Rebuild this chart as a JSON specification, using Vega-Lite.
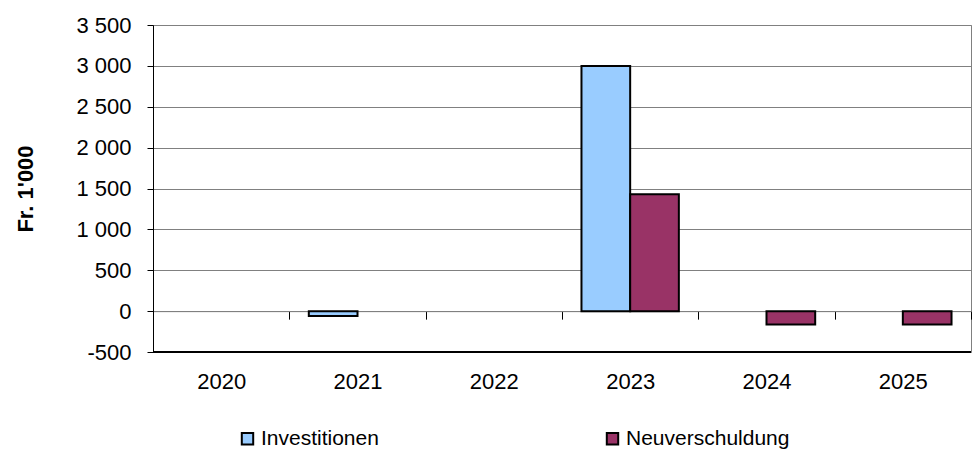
{
  "$schema": "https://vega.github.io/schema/vega-lite/v6.json",
  "autosize": {"type": "none"},
  "padding": {"left": 153, "top": 25, "right": 2, "bottom": 102},
  "width": 818,
  "height": 327,
  "background": "white",
  "config": {
    "font": "Liberation Sans",
    "view": {"stroke": "#808080", "strokeWidth": 1}
  },
  "data": {
    "values": [
      {"Jahr": "2020", "Serie": "Investitionen", "Wert": 0},
      {"Jahr": "2020", "Serie": "Neuverschuldung", "Wert": 0},
      {"Jahr": "2021", "Serie": "Investitionen", "Wert": -60},
      {"Jahr": "2021", "Serie": "Neuverschuldung", "Wert": 0},
      {"Jahr": "2022", "Serie": "Investitionen", "Wert": 0},
      {"Jahr": "2022", "Serie": "Neuverschuldung", "Wert": 0},
      {"Jahr": "2023", "Serie": "Investitionen", "Wert": 3000},
      {"Jahr": "2023", "Serie": "Neuverschuldung", "Wert": 1430},
      {"Jahr": "2024", "Serie": "Investitionen", "Wert": 0},
      {"Jahr": "2024", "Serie": "Neuverschuldung", "Wert": -165},
      {"Jahr": "2025", "Serie": "Investitionen", "Wert": 0},
      {"Jahr": "2025", "Serie": "Neuverschuldung", "Wert": -165}
    ]
  },
  "layer": [
    {
      "transform": [{"filter": "datum.Wert != 0"}],
      "mark": {"type": "bar", "stroke": "black", "strokeWidth": 2},
      "encoding": {
        "x": {
          "field": "Jahr",
          "type": "nominal",
          "scale": {"domain": ["2020", "2021", "2022", "2023", "2024", "2025"], "paddingInner": 0, "paddingOuter": 0},
          "axis": {
            "title": null,
            "offset": -40.875,
            "tickBand": "extent",
            "domainColor": "#808080",
            "domainWidth": 1,
            "tickColor": "#000000",
            "tickSize": 8,
            "labelFontSize": 22,
            "labelColor": "#000000",
            "labelPadding": 52,
            "labelAngle": 0,
            "grid": false
          }
        },
        "xOffset": {
          "field": "Serie",
          "type": "nominal",
          "scale": {"domain": ["Investitionen", "Neuverschuldung"], "paddingInner": 0, "paddingOuter": 0.4}
        },
        "y": {
          "field": "Wert",
          "type": "quantitative",
          "scale": {"domain": [-500, 3500], "nice": false, "zero": false},
          "axis": {
            "title": "Fr. 1'000",
            "titleFontSize": 22,
            "titleFontWeight": "bold",
            "titleColor": "#000000",
            "titlePadding": 38,
            "values": [-500, 0, 500, 1000, 1500, 2000, 2500, 3000, 3500],
            "labelExpr": "datum.value < 0 ? '-' + format(-datum.value, 'd') : replace(format(datum.value, ','), ',', ' ')",
            "labelFontSize": 22,
            "labelColor": "#000000",
            "labelPadding": 16,
            "tickSize": 6,
            "tickColor": "#000000",
            "domainColor": "#000000",
            "grid": true,
            "gridColor": "#808080",
            "gridWidth": 1
          }
        },
        "fill": {
          "field": "Serie",
          "type": "nominal",
          "scale": {"domain": ["Investitionen", "Neuverschuldung"], "range": ["#99CCFF", "#993366"]},
          "legend": {
            "title": null,
            "orient": "none",
            "legendX": 84,
            "legendY": 403,
            "direction": "horizontal",
            "symbolType": "square",
            "symbolSize": 130,
            "symbolStrokeColor": "#000000",
            "symbolStrokeWidth": 2,
            "labelFontSize": 21,
            "labelColor": "#000000",
            "labelOffset": 3,
            "labelLimit": 400,
            "columnPadding": 223
          }
        }
      }
    },
    {
      "mark": {"type": "rule", "color": "#000000", "strokeWidth": 1.5},
      "encoding": {"y": {"datum": -500}}
    }
  ]
}
